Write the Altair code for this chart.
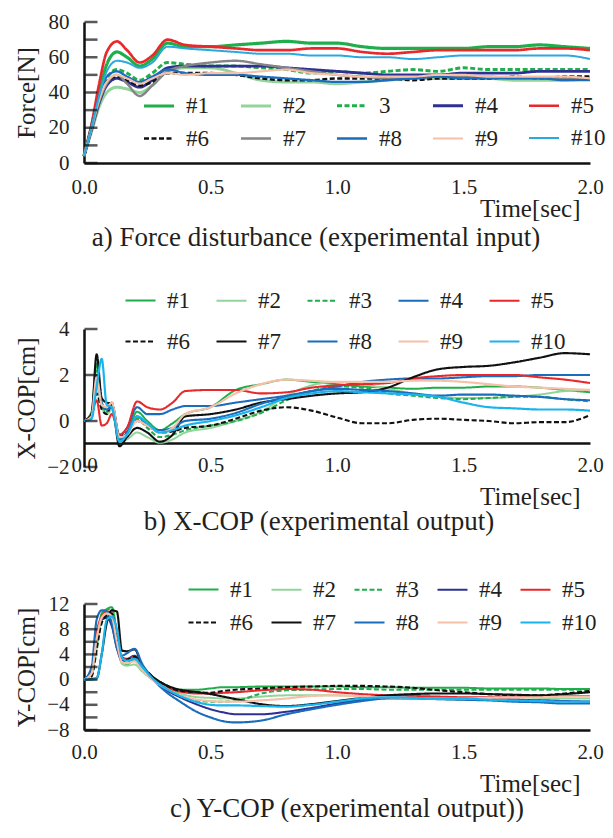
import altair as alt
import pandas as pd

# ---------------- Panel a: Force disturbance ----------------
T_A = [0, 0.03, 0.06, 0.09, 0.13, 0.17, 0.22, 0.27, 0.33, 0.4, 0.5, 0.6, 0.7,
       0.8, 0.9, 1.0, 1.1, 1.2, 1.3, 1.4, 1.5, 1.6, 1.7, 1.8, 1.9, 2.0]
NAMES_A = ["#1", "#2", "3", "#4", "#5", "#6", "#7", "#8", "#9", "#10"]
FA_1 = [4, 21, 40, 56, 63, 60, 55, 59, 68, 66, 66, 67, 68, 69, 68, 68, 66, 65, 65, 65, 65, 66, 66, 67, 66, 65]
FA_2 = [4, 18, 32, 40, 43, 42, 40, 44, 52, 54, 54, 51, 47, 46, 46, 45, 46, 47, 48, 48, 48, 48, 47, 47, 47, 48]
FA_3 = [4, 20, 36, 48, 53, 51, 47, 51, 57, 56, 55, 55, 54, 53, 51, 52, 51, 52, 53, 52, 54, 53, 53, 53, 53, 53]
FA_4 = [4, 19, 34, 44, 48, 46, 43, 47, 54, 55, 55, 55, 55, 54, 53, 52, 51, 50, 50, 50, 51, 51, 51, 52, 52, 52]
FA_5 = [4, 22, 45, 63, 69, 64, 57, 61, 70, 67, 66, 65, 64, 64, 65, 65, 63, 62, 63, 64, 64, 64, 64, 65, 65, 64]
FA_6 = [4, 20, 36, 46, 49, 47, 44, 46, 51, 51, 51, 50, 48, 47, 47, 48, 48, 48, 47, 48, 48, 48, 49, 48, 49, 49]
FA_7 = [4, 19, 35, 45, 50, 45, 38, 44, 52, 55, 57, 58, 56, 54, 52, 50, 49, 48, 48, 49, 49, 49, 48, 48, 48, 48]
FA_8 = [4, 21, 38, 49, 52, 49, 46, 49, 53, 51, 50, 50, 49, 48, 47, 46, 46, 47, 48, 49, 48, 48, 48, 48, 47, 47]
FA_9 = [4, 20, 36, 46, 50, 48, 45, 48, 51, 50, 51, 51, 52, 53, 51, 50, 49, 49, 49, 50, 50, 49, 49, 49, 49, 48]
FA_10 = [4, 20, 38, 52, 58, 57, 54, 57, 66, 65, 64, 63, 62, 62, 61, 61, 60, 60, 59, 60, 61, 61, 61, 61, 61, 59]
COLORS_A = ["#1fae4b", "#93d49c", "#1fae4b", "#2e3192", "#e8282b",
            "#111111", "#858585", "#1a6cbd", "#f6c1a8", "#2aa8e0"]
WIDTHS_A = [3.2, 2.0, 2.2, 1.8, 1.8, 1.8, 2.0, 1.8, 2.0, 1.5]
YTICKS_A = [0, 10, 20, 30, 40, 50, 60, 70, 80]

# ---------------- Panel b: X-COP ----------------
T_B = [0, 0.03, 0.05, 0.07, 0.09, 0.11, 0.14, 0.17, 0.21, 0.25, 0.3, 0.35, 0.4,
       0.5, 0.6, 0.7, 0.8, 0.9, 1.0, 1.1, 1.2, 1.3, 1.4, 1.5, 1.6, 1.7, 1.8, 1.9, 2.0]
NAMES_BC = ["#1", "#2", "#3", "#4", "#5", "#6", "#7", "#8", "#9", "#10"]
XB_1 = [0, 0.4, 2.5, 0.8, 0.3, 0.6, -0.8, -0.5, 0.4, 0.0, -0.4, -0.1, 0.3, 0.6, 1.35, 1.6, 1.8, 1.7, 1.6, 1.5, 1.45, 1.4, 1.45, 1.45, 1.5, 1.5, 1.45, 1.35, 1.25]
XB_2 = [0, 0.2, 1.5, 0.6, 0.3, 0.5, -0.9, -0.8, -0.5, -0.7, -0.95, -0.8, -0.5, -0.3, 0.0, 0.4, 1.1, 1.55, 1.7, 1.6, 1.4, 1.2, 1.05, 1.0, 1.0, 1.05, 1.15, 1.3, 1.35]
XB_3 = [0, 0.3, 2.2, 0.7, 0.4, 0.7, -0.7, -0.6, 0.1, -0.3, -0.7, -0.6, -0.4, -0.2, 0.0, 0.35, 0.9, 1.3, 1.5, 1.45, 1.2, 1.1, 1.0, 0.95, 1.0, 1.05, 1.05, 0.95, 0.85]
XB_4 = [0, 0.3, 2.0, 0.7, 0.5, 0.7, -0.6, -0.3, 0.6, 0.3, 0.3, 0.5, 0.65, 0.65, 0.8, 0.95, 1.1, 1.3, 1.5, 1.7, 1.8, 1.85, 1.85, 1.9, 1.95, 1.95, 2.0, 2.0, 2.0]
XB_5 = [0, 0.3, 0.9, -0.2, -0.1, 0.3, -0.6, -0.3, 0.85, 0.6, 0.5, 0.8, 1.3, 1.35, 1.35, 1.2, 1.25, 1.45, 1.55, 1.6, 1.65, 1.85, 1.95, 2.0, 2.0, 2.0, 1.9, 1.8, 1.65]
XB_6 = [0, 0.2, 1.2, 0.5, 0.3, 0.8, -0.7, -0.5, 0.0, -0.2, -0.5, -0.45, -0.3, -0.2, 0.1, 0.45, 0.6, 0.45, 0.15, -0.1, -0.1, 0.05, 0.1, 0.05, 0.0, -0.1, -0.05, -0.05, 0.25]
XB_7 = [0, 0.3, 2.9, 1.0, 0.8, 0.75, -1.1, -0.7, -0.3, -0.5, -0.9, -0.6, 0.2, 0.3, 0.5, 0.8, 0.95, 1.1, 1.2, 1.25, 1.45, 1.9, 2.25, 2.35, 2.4, 2.55, 2.75, 2.95, 2.9]
XB_8 = [0, 0.2, 1.8, 0.8, 0.5, 0.6, -0.8, -0.5, 0.2, -0.2, -0.4, -0.3, 0.0, 0.1, 0.35, 0.75, 1.05, 1.3, 1.4, 1.35, 1.3, 1.2, 1.1, 1.15, 1.15, 1.1, 1.05, 0.95, 0.9]
XB_9 = [0, 0.2, 1.9, 0.7, 0.6, 0.8, -0.7, -0.6, 0.0, -0.2, -0.5, -0.3, 0.3, 0.6, 1.2, 1.6, 1.8, 1.75, 1.7, 1.7, 1.7, 1.75, 1.75, 1.7, 1.6, 1.5, 1.45, 1.4, 1.35]
XB_10 = [0, 0.1, 1.5, 2.7, 0.7, 0.6, -0.9, -0.6, 0.2, -0.1, -0.5, -0.4, -0.2, 0.0, 0.25, 0.6, 1.0, 1.2, 1.3, 1.25, 1.2, 1.15, 1.05, 0.8, 0.6, 0.55, 0.5, 0.5, 0.45]
COLORS_B = ["#1fae4b", "#93d49c", "#1fae4b", "#1a6cbd", "#e8282b",
            "#111111", "#111111", "#1a6cbd", "#f6c1a8", "#19b4ee"]
WIDTHS_B = [2.0, 2.2, 2.0, 1.8, 1.8, 1.8, 2.0, 1.8, 2.2, 1.8]
YTICKS_B = [-2, 0, 2, 4]

# ---------------- Panel c: Y-COP ----------------
T_C = [0, 0.03, 0.05, 0.07, 0.09, 0.11, 0.13, 0.15, 0.17, 0.2, 0.23, 0.27, 0.32, 0.38,
       0.45, 0.5, 0.55, 0.6, 0.7, 0.8, 0.9, 1.0, 1.1, 1.2, 1.3, 1.4, 1.5, 1.6, 1.7, 1.8, 1.9, 2.0]
YC_1 = [0, 1.0, 6.0, 10.5, 11.2, 11.5, 7.0, 2.8, 2.4, 3.2, 1.8, 0.4, -0.8, -1.6, -1.6, -1.4, -1.2, -1.2, -1.1, -1.1, -1.1, -1.1, -1.2, -1.2, -1.3, -1.3, -1.3, -1.4, -1.4, -1.4, -1.5, -1.5]
YC_2 = [0, 0.8, 5.0, 9.5, 10.5, 10.6, 6.0, 2.5, 2.2, 2.4, 1.3, 0.0, -1.2, -2.2, -2.8, -2.9, -3.0, -3.0, -2.7, -2.5, -2.5, -2.5, -2.7, -2.9, -3.0, -3.1, -3.2, -3.2, -3.2, -3.1, -3.0, -3.0]
YC_3 = [0, 0.6, 4.5, 9.8, 11.0, 11.3, 7.5, 3.0, 2.7, 3.3, 1.9, 0.3, -1.2, -2.5, -3.3, -3.5, -3.5, -3.4, -2.2, -1.7, -1.6, -1.5, -1.5, -1.6, -1.6, -1.6, -1.6, -1.6, -1.6, -1.6, -1.6, -1.6]
YC_4 = [0, 1.5, 7.0, 9.5, 9.8, 8.5, 5.0, 3.0, 3.2, 3.8, 2.2, 0.3, -1.5, -2.8, -4.0, -4.7, -5.2, -5.5, -5.5, -5.1, -4.5, -3.8, -3.2, -2.9, -2.9, -3.0, -3.0, -3.1, -3.2, -3.3, -3.4, -3.5]
YC_5 = [0, 1.2, 7.5, 10.0, 10.8, 10.5, 6.5, 3.5, 3.3, 3.6, 2.0, 0.4, -1.0, -1.9, -2.2, -2.2, -2.1, -2.0, -1.7, -1.5, -1.6, -2.0, -2.3, -2.5, -2.6, -2.7, -2.8, -2.8, -2.8, -2.7, -2.6, -2.6]
YC_6 = [0, 0.5, 5.0, 9.0, 10.2, 10.5, 7.0, 3.5, 3.2, 3.6, 2.2, 0.5, -0.8, -1.8, -2.0, -2.1, -1.8, -1.6, -1.4, -1.2, -1.1, -1.0, -1.0, -1.1, -1.3, -1.7, -2.0, -2.3, -2.5, -2.5, -2.2, -1.8]
YC_7 = [0, 0.1, 0.2, 4.0, 9.0, 11.0, 10.8, 4.6, 4.5, 4.8, 2.2, 0.5, -0.8, -1.6, -2.0, -2.3, -2.7, -3.1, -3.9, -4.2, -3.9, -3.4, -2.9, -2.5, -2.3, -2.2, -2.2, -2.3, -2.4, -2.5, -2.3, -2.0]
YC_8 = [0, 2.0, 9.5, 11.0, 10.8, 9.0, 5.0, 3.8, 4.2, 4.9, 2.5, 0.2, -1.8, -3.5, -5.2, -6.0, -6.6, -6.8, -6.5, -5.5, -4.7, -4.0, -3.4, -3.0, -3.0, -3.1, -3.2, -3.3, -3.5, -3.6, -3.8, -3.8]
YC_9 = [0, 1.0, 6.5, 9.8, 10.5, 10.0, 6.0, 2.8, 2.6, 2.9, 1.6, 0.0, -1.3, -2.5, -3.2, -3.4, -3.5, -3.5, -3.3, -3.0, -2.6, -2.5, -2.7, -2.8, -2.9, -3.0, -3.0, -2.9, -2.8, -2.8, -2.7, -2.7]
YC_10 = [0, 0.0, 0.2, 4.0, 9.5, 10.0, 8.0, 3.5, 3.0, 3.3, 2.0, 0.2, -1.3, -2.6, -3.6, -4.0, -4.1, -4.1, -4.2, -4.3, -4.0, -3.5, -3.0, -2.8, -2.9, -3.0, -3.0, -3.2, -3.3, -3.4, -3.5, -3.5]
COLORS_C = ["#1fae4b", "#93d49c", "#1fae4b", "#2e3192", "#e8282b",
            "#111111", "#111111", "#1a6cbd", "#f6c1a8", "#19b4ee"]
WIDTHS_C = [2.0, 2.2, 2.0, 1.8, 1.8, 1.8, 2.4, 1.8, 2.2, 1.8]
YTICKS_C = [-8, -6, -4, -2, 0, 2, 4, 6, 8, 10, 12]

X_TICKS = [0, 0.5, 1.0, 1.5, 2.0]

FONT = "Liberation Serif"
INK = "#231f20"
W = 506


def long_df(t, names, arrays):
    rows = []
    for name, arr in zip(names, arrays):
        for ti, v in zip(t, arr):
            rows.append({"t": ti, "v": v, "s": name})
    return pd.DataFrame(rows)


def panel(df, names, colors, widths, dashed, ydom, yvals, label_expr,
          ytitle, caption, h, lx, ly, colpad, rowpad, xoffset, xlabpad,
          xtitle_y, cap_dx, cap_dy):
    dashes = [[5, 2.5] if n in dashed else [1, 0] for n in names]
    legend = alt.Legend(
        orient="none", legendX=lx, legendY=ly, columns=5, direction="horizontal",
        title=None, symbolType="stroke", symbolSize=900,
        labelFont=FONT, labelFontSize=23, labelColor=INK, labelOffset=10,
        columnPadding=colpad, rowPadding=rowpad, labelLimit=0, padding=0,
    )
    xaxis = alt.Axis(
        values=X_TICKS, format=".1f", title="Time[sec]", offset=xoffset,
        labelFlush=False, labelOverlap=False, labelPadding=xlabpad,
        ticks=False, titleAnchor="end", titleAlign="right",
        titleBaseline="middle", titleY=xtitle_y, titleX=496, grid=False,
    )
    yaxis = alt.Axis(
        values=yvals, labelExpr=label_expr, title=ytitle, grid=False,
        ticks=False, labelPadding=15,
        titleX=-58, titleBaseline="middle", titleAngle=-90,
    )
    yscale = alt.Scale(domain=ydom, nice=False, zero=False)
    xscale = alt.Scale(domain=[0, 2], nice=False)
    lines = alt.Chart(df).mark_line(interpolate="monotone").encode(
        x=alt.X("t:Q", scale=xscale, axis=xaxis),
        y=alt.Y("v:Q", scale=yscale, axis=yaxis),
        color=alt.Color("s:N", scale=alt.Scale(domain=names, range=colors), legend=legend),
        strokeDash=alt.StrokeDash("s:N", scale=alt.Scale(domain=names, range=dashes), legend=legend),
        strokeWidth=alt.StrokeWidth("s:N", scale=alt.Scale(domain=names, range=widths), legend=legend),
    )
    ticks = alt.Chart(pd.DataFrame({"v": yvals})).mark_tick(
        color="#111111", orient="horizontal", size=13, thickness=2.5
    ).encode(
        y=alt.Y("v:Q", scale=yscale, axis=yaxis),
        x=alt.value(7),
    )
    return alt.layer(lines, ticks).properties(
        width=W, height=h,
        title=alt.TitleParams(caption, orient="bottom", anchor="middle", frame="group",
                              font=FONT, fontSize=27, fontWeight="normal", color=INK,
                              offset=0, dx=cap_dx, dy=cap_dy),
    )


df_a = long_df(T_A, NAMES_A, [FA_1, FA_2, FA_3, FA_4, FA_5, FA_6, FA_7, FA_8, FA_9, FA_10])
df_b = long_df(T_B, NAMES_BC, [XB_1, XB_2, XB_3, XB_4, XB_5, XB_6, XB_7, XB_8, XB_9, XB_10])
df_c = long_df(T_C, NAMES_BC, [YC_1, YC_2, YC_3, YC_4, YC_5, YC_6, YC_7, YC_8, YC_9, YC_10])

pa = panel(df_a, NAMES_A, COLORS_A, WIDTHS_A, ["3", "#6"], [0, 80], YTICKS_A,
           "datum.value % 20 === 0 ? datum.label : ''", "Force[N]",
           "a) Force disturbance (experimental input)", 141,
           58, 67, 25, 4, 0, 13, 45, -21, 4)
pb = panel(df_b, NAMES_BC, COLORS_B, WIDTHS_B, ["#3", "#6"], [-2, 4], YTICKS_B,
           "datum.label", "X-COP[cm]",
           "b) X-COP (experimental output)", 138,
           40, -45, 22, 12, -24, 11, 53, -18, 0)
pc = panel(df_c, NAMES_BC, COLORS_C, WIDTHS_C, ["#3", "#6"], [-8, 12], YTICKS_C,
           "datum.value % 4 === 0 ? datum.label : ''", "Y-COP[cm]",
           "c) Y-COP (experimental output))", 126,
           103, -31, 14, 4, 0, 11, 53, 10, 0)

RES = dict(color="independent", strokeDash="independent", strokeWidth="independent",
           x="independent", y="independent")
LRES = dict(color="independent", strokeDash="independent", strokeWidth="independent")

lower = alt.vconcat(pb, pc, spacing=38).resolve_scale(**RES).resolve_legend(**LRES)
chart = alt.vconcat(pa, lower, spacing=33).resolve_scale(**RES).resolve_legend(**LRES).properties(
    padding={"left": 14, "top": 11, "right": 0, "bottom": 0},
    background="white",
).configure_view(stroke=None).configure_axis(
    labelFont=FONT, labelFontSize=21, labelColor=INK,
    titleFont=FONT, titleFontSize=25, titleFontWeight="normal", titleColor=INK,
    domainColor="#111111", domainWidth=2.5,
)

chart.save("out.html", embed_options={"renderer": "svg", "actions": False})
